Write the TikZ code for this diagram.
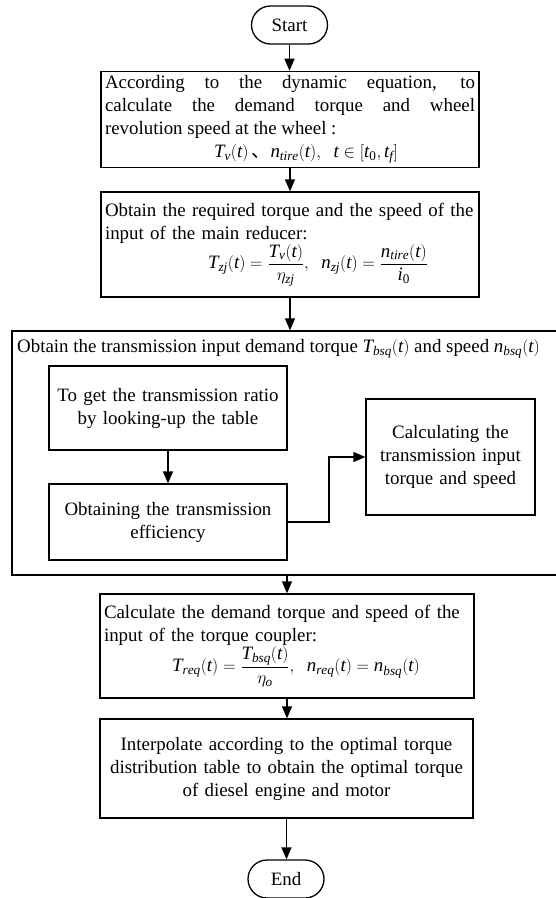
\documentclass[tikz,border=0pt]{standalone}
\usepackage{amsmath}
\usepackage{fontspec}
\setmainfont{Liberation Serif}
\newfontfamily\cjkfont{Noto Sans CJK SC}
\usetikzlibrary{arrows.meta,shapes.misc}

\newlength{\du}
\setlength{\du}{1pt}

\tikzset{
  procbox/.style={draw, line width=1.3\du, rectangle, inner xsep=4\du, inner ysep=4\du,
    font=\fontsize{18.9}{23}\selectfont},
  termbox/.style={draw, line width=1.3\du, rounded rectangle, inner sep=2\du,
    minimum width=80\du, minimum height=38\du, font=\fontsize{18.9}{23}\selectfont},
  flowarrow/.style={line width=1.3\du, -{Triangle[length=12pt,width=10pt]}}
}

\begin{document}
\begin{tikzpicture}
\pgftransformxscale{1.000000}
\pgftransformyscale{-1.000000}
\useasboundingbox (0\du,0\du) rectangle (556\du,898\du);
% terminals and main column
\node[termbox] (start) at (289.5\du,25\du) {Start};
\node[procbox, text width=370\du, minimum height=91\du, align=justify] (wheel) at (290\du,119.5\du) {According to the dynamic equation, to\linebreak calculate the demand torque and wheel\linebreak revolution speed at the wheel :\par{\centering\hspace*{32\du}$\mathit{T_v(t)}$\,{\cjkfont 、}$\mathit{n_{tire}(t),\;\; t\in[t_{\mathrm{0}},t_f]}$\par}};
\node[procbox, text width=370\du, minimum height=105\du, align=left] (reducer) at (290\du,244.5\du) {Obtain the required torque and the speed of the\\ input of the main reducer:\par{\centering\hspace*{56\du}$\mathit{T_{zj}(t)=\dfrac{T_v(t)}{\eta_{zj}},\;\; n_{zj}(t)=\dfrac{n_{tire}(t)}{i_{\mathrm{0}}}}$\par}};
% transmission block
\node[draw, line width=1.3\du, inner sep=0, minimum width=548\du, minimum height=244\du] (outer) at (286\du,453\du) {};
\node[anchor=west, inner sep=0, font=\fontsize{18.9}{23}\selectfont] (outertitle) at (17\du,349\du) {Obtain the transmission input demand torque $\mathit{T_{bsq}(t)}$ and speed $\mathit{n_{bsq}(t)}$};
\node[procbox, text width=230\du, minimum height=84\du, align=center] (ratio) at (168\du,408\du) {To get the transmission ratio\\ by looking-up the table};
\node[procbox, text width=230\du, minimum height=76\du, align=center] (effic) at (168\du,522\du) {Obtaining the transmission\\ efficiency};
\node[procbox, text width=161\du, minimum height=116\du, align=center] (calc) at (450.5\du,457\du) {Calculating the\\ transmission input\\ torque and speed};
\coordinate (elbow) at (329\du,457\du);
% lower column
\node[procbox, text width=366\du, minimum height=104\du, align=left] (coupler) at (287\du,646\du) {Calculate the demand torque and speed of the\\ input of the torque coupler:\par{\centering\hspace*{18\du}$\mathit{T_{req}(t)=\dfrac{T_{bsq}(t)}{\eta_o},\;\; n_{req}(t)=n_{bsq}(t)}$\par}};
\node[procbox, text width=365\du, minimum height=99\du, align=center] (torque) at (286.5\du,768.5\du) {Interpolate according to the optimal torque\\ distribution table to obtain the optimal torque\\ of diesel engine and motor};
\node[termbox] (end) at (286\du,879\du) {End};
% connectors
\draw[flowarrow] (start.south) -- (start.south |- wheel.north);
\draw[flowarrow] (wheel.south) -- (reducer.north);
\draw[flowarrow] (reducer.south) -- (reducer.south |- outer.north);
\draw[flowarrow] (ratio.south) -- (effic.north);
\draw[flowarrow] (effic.east) -| (elbow) -- (calc.west);
\draw[flowarrow] (outer.south -| coupler.north) -- (coupler.north);
\draw[flowarrow] (coupler.south) -- (coupler.south |- torque.north);
\draw[flowarrow] (torque.south) -- (torque.south |- end.north);
\end{tikzpicture}
\end{document}
